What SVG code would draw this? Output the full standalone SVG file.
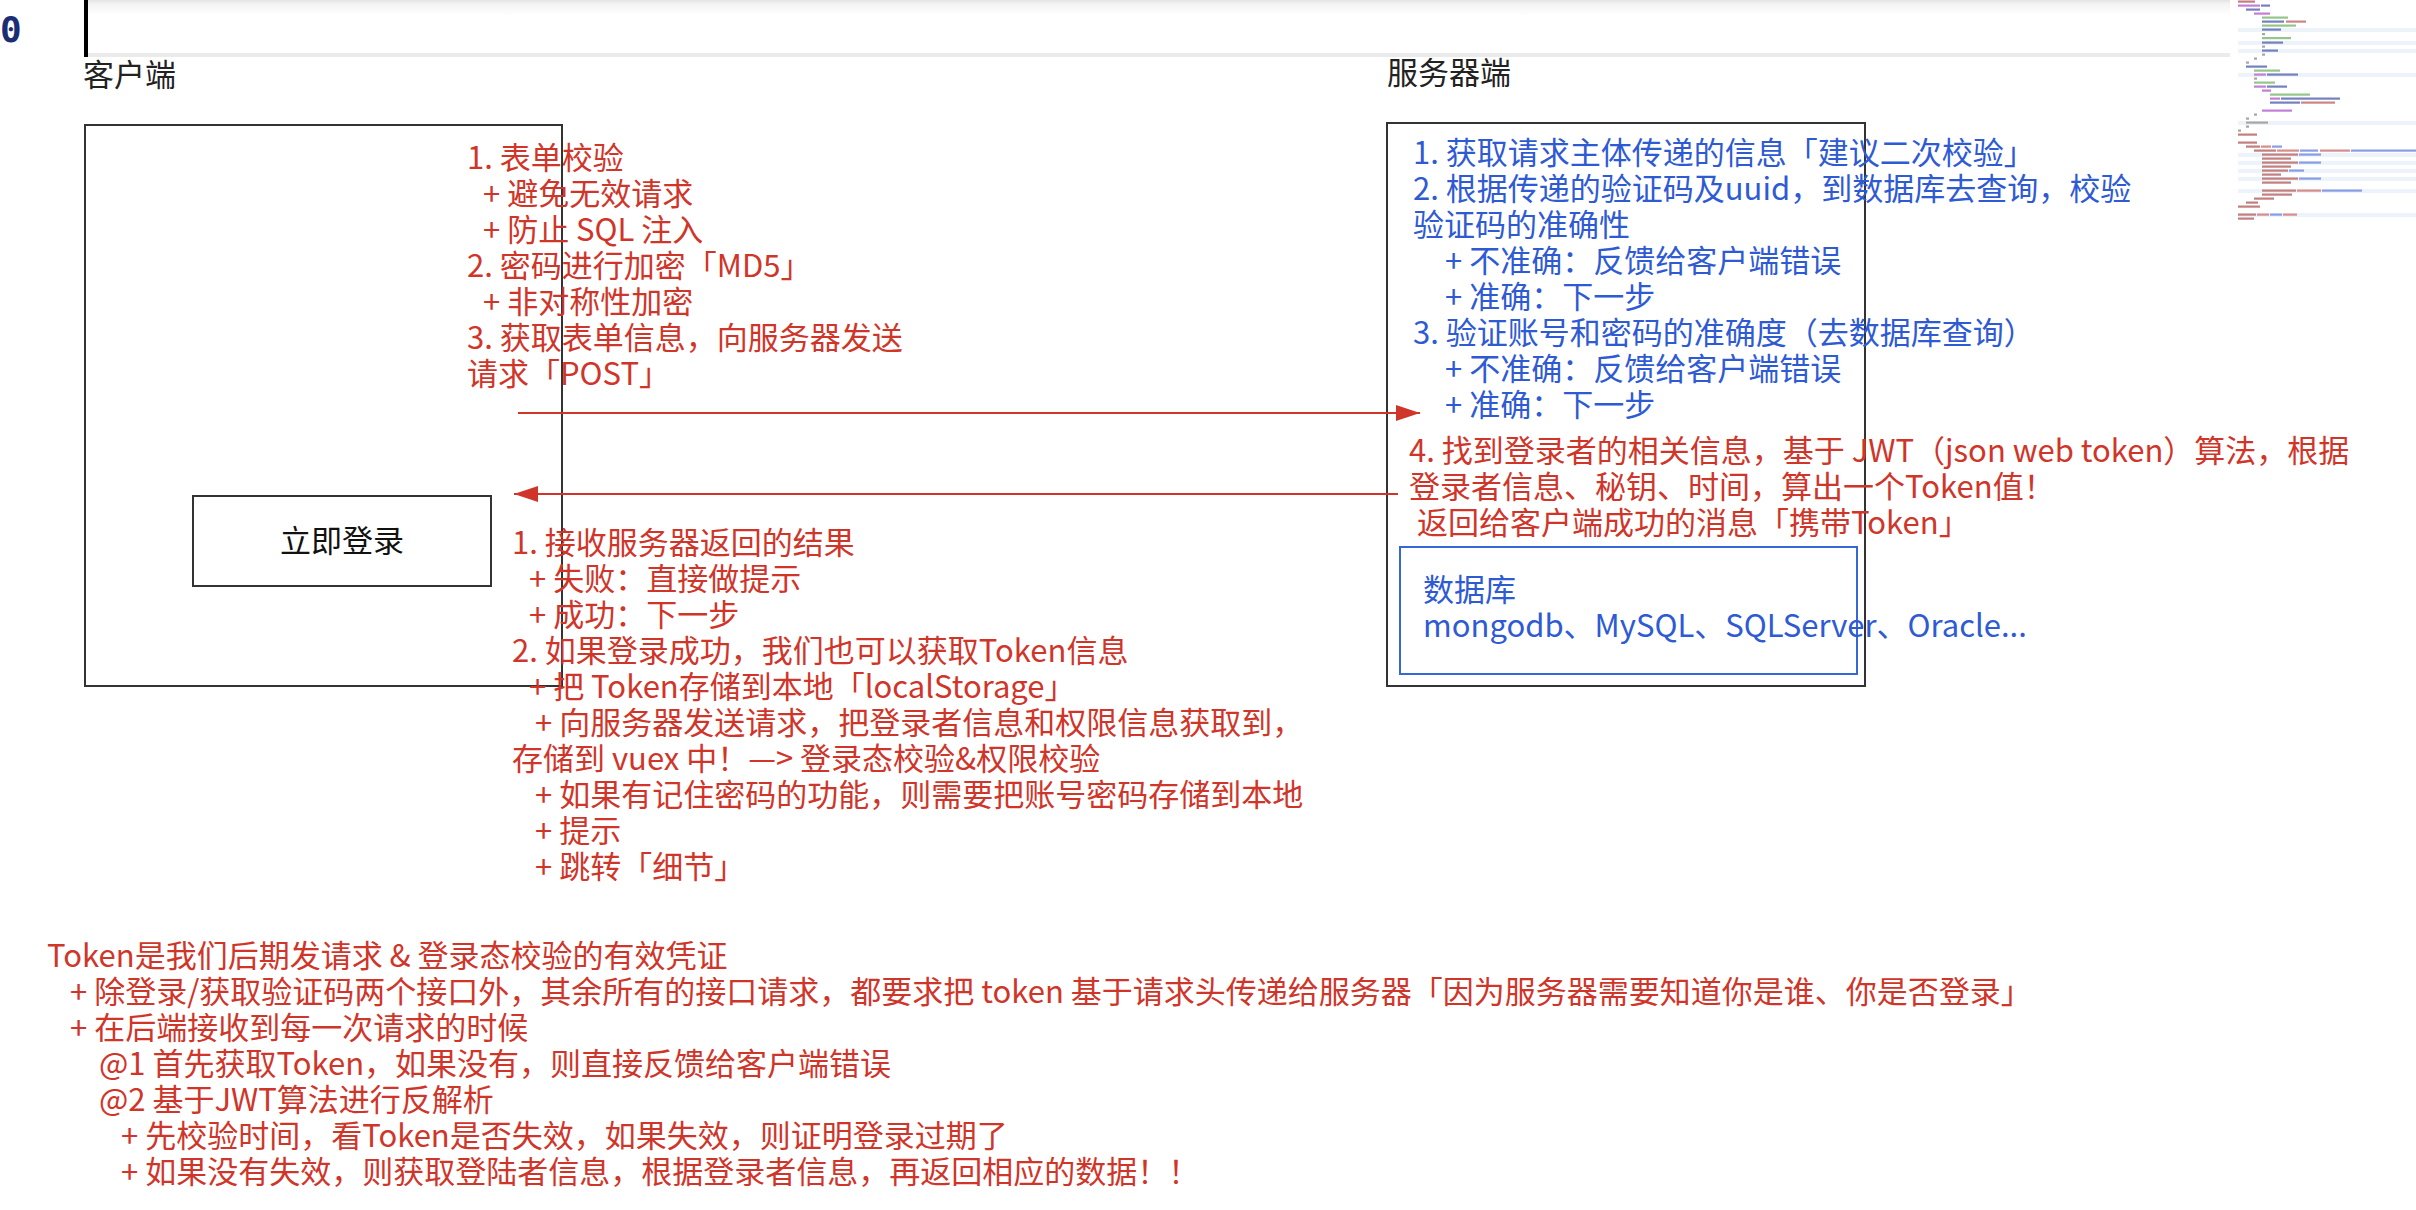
<svg xmlns="http://www.w3.org/2000/svg" width="2416" height="1210" viewBox="0 0 2416 1210">
<defs>
<style>
text{font-family:"Noto Sans CJK SC","Noto Sans",sans-serif;font-size:31px;white-space:pre}
.red{fill:#d0352a}
.blue{fill:#2e5ad4}
.dark{fill:#222}
.box{fill:none;stroke:#333;stroke-width:2}
.db{fill:none;stroke:#3567d6;stroke-width:2}
.conn{stroke:#d0352a;stroke-width:2;fill:none}
.mm{opacity:0.65}
.mm rect{height:2.2px}
.mm .hl{height:4px;fill:#e3edf9}
.kw{fill:#a63ac4}
.pr{fill:#2c3f9e}
.st{fill:#b04848}
.cm{fill:#5aa84a}
.pn{fill:#777}
.tg{fill:#a43a3a}
.at{fill:#c45050}
.av{fill:#4a6ad8}
</style>
<linearGradient id="bar" x1="0" y1="0" x2="0" y2="1">
<stop offset="0" stop-color="#e4e4e4"/>
<stop offset="0.08" stop-color="#f4f4f4"/>
<stop offset="0.3" stop-color="#ffffff"/>
<stop offset="1" stop-color="#ffffff"/>
</linearGradient>
<marker id="ah" markerUnits="userSpaceOnUse" markerWidth="24" markerHeight="16" refX="24" refY="8" orient="auto">
<path d="M0,0 L24,8 L0,16 z" fill="#d0352a"/>
</marker>
</defs>
<rect width="2416" height="1210" fill="#ffffff"/>

<g id="editor-bar">
<rect x="88" y="0" width="2142" height="53" fill="url(#bar)"/>
<rect x="88" y="53" width="2142" height="4" fill="#ebebeb"/>
<rect x="84" y="0" width="4" height="57" fill="#000"/>
<text x="0" y="42" style="font-family:'DejaVu Sans Mono',monospace;font-size:36px;font-weight:bold;fill:#1b2d73">0</text>
</g>

<g id="minimap" class="mm">
<rect class="hl" x="2238" y="28" width="178"/>
<rect class="hl" x="2238" y="41" width="178"/>
<rect class="hl" x="2238" y="49" width="178"/>
<rect class="hl" x="2238" y="73" width="178"/>
<rect class="hl" x="2238" y="121" width="178"/>
<rect class="hl" x="2238" y="153" width="178"/>
<rect class="hl" x="2238" y="161" width="178"/>
<rect class="hl" x="2238" y="169" width="178"/>
<rect class="hl" x="2238" y="177" width="178"/>
<rect class="hl" x="2238" y="189" width="178"/>
<rect class="hl" x="2238" y="213" width="178"/>
<rect class="tg" x="2238" y="0.5" width="17"/>
<rect class="kw" x="2238" y="4.5" width="22"/><rect class="pr" x="2261" y="4.5" width="9"/>
<rect class="pr" x="2246" y="8.5" width="14"/>
<rect class="kw" x="2254" y="12.5" width="16"/>
<rect class="cm" x="2262" y="16.5" width="26"/>
<rect class="pr" x="2262" y="20.5" width="22"/><rect class="st" x="2286" y="20.5" width="20"/>
<rect class="cm" x="2262" y="24.5" width="34"/>
<rect class="pr" x="2262" y="28.5" width="19"/>
<rect class="pn" x="2262" y="33" width="3"/>
<rect class="cm" x="2262" y="37" width="29"/>
<rect class="pr" x="2262" y="41.5" width="21"/>
<rect class="pn" x="2262" y="45.5" width="3"/>
<rect class="pr" x="2262" y="49.5" width="16"/>
<rect class="pn" x="2262" y="53.5" width="3"/>
<rect class="pn" x="2254" y="57.5" width="3"/>
<rect class="pn" x="2246" y="61.5" width="3"/>
<rect class="pr" x="2246" y="65.5" width="21"/>
<rect class="cm" x="2254" y="69.5" width="26"/>
<rect class="kw" x="2254" y="73.5" width="12"/><rect class="pr" x="2267" y="73.5" width="31"/>
<rect class="pn" x="2254" y="77.5" width="3"/>
<rect class="cm" x="2254" y="81.5" width="21"/>
<rect class="kw" x="2254" y="85.5" width="12"/><rect class="pr" x="2267" y="85.5" width="20"/>
<rect class="kw" x="2262" y="89.5" width="9"/>
<rect class="cm" x="2270" y="93.5" width="40"/>
<rect class="kw" x="2270" y="97.5" width="10"/><rect class="pr" x="2281" y="97.5" width="59"/>
<rect class="pr" x="2270" y="101.5" width="30"/><rect class="st" x="2301" y="101.5" width="34"/>
<rect class="kw" x="2262" y="109.5" width="30"/>
<rect class="pn" x="2254" y="113.5" width="3"/>
<rect class="pn" x="2246" y="117.5" width="3"/>
<rect class="pn" x="2246" y="121.5" width="22"/>
<rect class="pn" x="2246" y="125.5" width="3"/>
<rect class="pn" x="2238" y="129.5" width="3"/>
<rect class="tg" x="2238" y="133.5" width="19"/>
<rect class="tg" x="2238" y="141.5" width="19"/>
<rect class="tg" x="2246" y="145.5" width="14"/><rect class="at" x="2261" y="145.5" width="10"/><rect class="av" x="2272" y="145.5" width="10"/>
<rect class="tg" x="2254" y="149.5" width="22"/><rect class="at" x="2277" y="149.5" width="22"/><rect class="av" x="2300" y="149.5" width="18"/><rect class="at" x="2320" y="149.5" width="30"/><rect class="av" x="2351" y="149.5" width="65"/>
<rect class="tg" x="2262" y="153.5" width="36"/><rect class="av" x="2299" y="153.5" width="22"/>
<rect class="tg" x="2262" y="157.5" width="29"/>
<rect class="tg" x="2262" y="161.5" width="36"/><rect class="av" x="2299" y="161.5" width="22"/>
<rect class="tg" x="2262" y="165.5" width="29"/>
<rect class="tg" x="2262" y="169.5" width="26"/><rect class="av" x="2289" y="169.5" width="15"/>
<rect class="tg" x="2262" y="173.5" width="19"/>
<rect class="tg" x="2262" y="177.5" width="36"/><rect class="av" x="2299" y="177.5" width="22"/>
<rect class="tg" x="2262" y="181.5" width="29"/>
<rect class="tg" x="2262" y="189.5" width="34"/><rect class="at" x="2297" y="189.5" width="24"/><rect class="av" x="2322" y="189.5" width="40"/>
<rect class="tg" x="2262" y="193.5" width="30"/>
<rect class="tg" x="2254" y="197.5" width="20"/>
<rect class="tg" x="2246" y="201.5" width="12"/>
<rect class="tg" x="2238" y="205.5" width="22"/>
<rect class="tg" x="2238" y="213.5" width="18"/><rect class="at" x="2257" y="213.5" width="12"/><rect class="av" x="2270" y="213.5" width="12"/><rect class="at" x="2283" y="213.5" width="14"/>
<rect class="tg" x="2238" y="217.5" width="16"/>
</g>

<g id="client-label"><text x="83" y="86" class="dark">客户端</text></g>
<g id="server-label"><text x="1387" y="84" class="dark">服务器端</text></g>

<g id="client">
<rect x="85" y="125" width="477" height="561" class="box"/>
</g>

<g id="login-button">
<rect x="193" y="496" width="298" height="90" class="box"/>
<text x="342" y="552" text-anchor="middle" style="font-size:31px;fill:#111">立即登录</text>
</g>

<g id="server">
<rect x="1387" y="123" width="478" height="563" class="box"/>
<g class="blue">
<text x="1413" y="164">1. 获取请求主体传递的信息「建议二次校验」</text>
<text x="1413" y="200">2. 根据传递的验证码及uuid，到数据库去查询，校验</text>
<text x="1413" y="236">验证码的准确性</text>
<text x="1445" y="272">+ 不准确：反馈给客户端错误</text>
<text x="1445" y="308">+ 准确：下一步</text>
<text x="1413" y="344">3. 验证账号和密码的准确度（去数据库查询）</text>
<text x="1445" y="380">+ 不准确：反馈给客户端错误</text>
<text x="1445" y="416">+ 准确：下一步</text>
</g>
<g class="red">
<text x="1409" y="462">4. 找到登录者的相关信息，基于 JWT（json web token）算法，根据</text>
<text x="1409" y="498">登录者信息、秘钥、时间，算出一个Token值！</text>
<text x="1417" y="534">返回给客户端成功的消息「携带Token」</text>
</g>
</g>

<g id="database">
<rect x="1400" y="547" width="457" height="127" class="db"/>
<text x="1423" y="601" class="blue">数据库</text>
<text x="1423" y="637" class="blue">mongodb、MySQL、SQLServer、Oracle...</text>
</g>

<g id="connectors">
<line x1="518" y1="413" x2="1420" y2="413" class="conn" marker-end="url(#ah)"/>
<line x1="1398" y1="494" x2="514" y2="494" class="conn" marker-end="url(#ah)"/>
</g>

<g id="request-notes" class="red">
<text x="467" y="169">1. 表单校验</text>
<text x="483" y="205">+ 避免无效请求</text>
<text x="483" y="241">+ 防止 SQL 注入</text>
<text x="467" y="277">2. 密码进行加密「MD5」</text>
<text x="483" y="313">+ 非对称性加密</text>
<text x="467" y="349">3. 获取表单信息，向服务器发送</text>
<text x="467" y="385">请求「POST」</text>
</g>

<g id="response-notes" class="red">
<text x="512" y="554">1. 接收服务器返回的结果</text>
<text x="529" y="590">+ 失败：直接做提示</text>
<text x="529" y="626">+ 成功：下一步</text>
<text x="512" y="662">2. 如果登录成功，我们也可以获取Token信息</text>
<text x="529" y="698">+ 把 Token存储到本地「localStorage」</text>
<text x="535" y="734">+ 向服务器发送请求，把登录者信息和权限信息获取到，</text>
<text x="512" y="770">存储到 vuex 中！—&gt; 登录态校验&amp;权限校验</text>
<text x="535" y="806">+ 如果有记住密码的功能，则需要把账号密码存储到本地</text>
<text x="535" y="842">+ 提示</text>
<text x="535" y="878">+ 跳转「细节」</text>
</g>

<g id="token-notes" class="red">
<text x="47" y="967">Token是我们后期发请求 &amp; 登录态校验的有效凭证</text>
<text x="70" y="1003">+ 除登录/获取验证码两个接口外，其余所有的接口请求，都要求把 token 基于请求头传递给服务器「因为服务器需要知道你是谁、你是否登录」</text>
<text x="70" y="1039">+ 在后端接收到每一次请求的时候</text>
<text x="99" y="1075">@1 首先获取Token，如果没有，则直接反馈给客户端错误</text>
<text x="99" y="1111">@2 基于JWT算法进行反解析</text>
<text x="121" y="1147">+ 先校验时间，看Token是否失效，如果失效，则证明登录过期了</text>
<text x="121" y="1183">+ 如果没有失效，则获取登陆者信息，根据登录者信息，再返回相应的数据！！</text>
</g>
</svg>
